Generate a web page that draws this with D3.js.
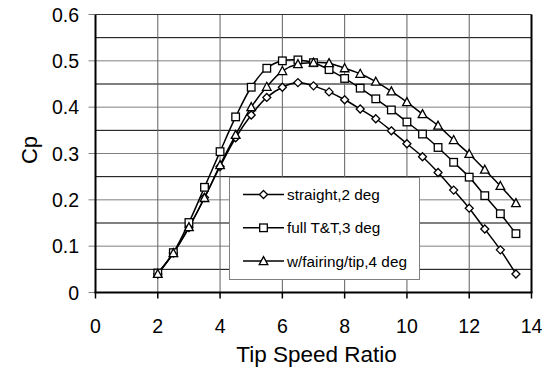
<!DOCTYPE html>
<html>
<head>
<meta charset="utf-8">
<script src="https://cdn.jsdelivr.net/npm/d3@7"></script>
<style>
  body { margin: 0; background: #fff; }
  svg { display: block; font-family: "Liberation Sans", Arial, sans-serif; }
</style>
</head>
<body>
<div id="chart"></div>
<script>
// tip speed ratio (x) and Cp for each configuration
var tsr = [2, 2.5, 3, 3.5, 4, 4.5, 5, 5.5, 6, 6.5, 7, 7.5, 8, 8.5, 9, 9.5, 10, 10.5, 11, 11.5, 12, 12.5, 13, 13.5];
var straight = [0.040, 0.085, 0.140, 0.205, 0.272, 0.334, 0.383, 0.421, 0.443, 0.453, 0.446, 0.433, 0.416, 0.396, 0.375, 0.349, 0.321, 0.293, 0.259, 0.221, 0.182, 0.137, 0.092, 0.040];
var fullTT = [0.042, 0.086, 0.151, 0.227, 0.304, 0.379, 0.443, 0.484, 0.500, 0.502, 0.496, 0.481, 0.462, 0.441, 0.418, 0.394, 0.368, 0.342, 0.313, 0.281, 0.249, 0.209, 0.170, 0.127];
var fairing = [0.040, 0.085, 0.141, 0.204, 0.275, 0.340, 0.400, 0.444, 0.478, 0.493, 0.496, 0.495, 0.484, 0.472, 0.455, 0.434, 0.411, 0.385, 0.360, 0.329, 0.299, 0.265, 0.230, 0.193];
var seriesNames = ["straight,2 deg", "full T&T,3 deg", "w/fairing/tip,4 deg"];
var seriesMarkers = ["diamond", "square", "triangle"];
var xTicks = [0, 2, 4, 6, 8, 10, 12, 14];
var yTicks = [0, 0.1, 0.2, 0.3, 0.4, 0.5, 0.6];
var yMinor = [0.05, 0.15, 0.25, 0.35, 0.45, 0.55];

var width = 549, height = 373;
var margin = {left: 95.5, right: 17.5, top: 14.5, bottom: 80.5};

var svg = d3.select('#chart').append('svg')
    .attr('width', width)
    .attr('height', height);

var x = d3.scaleLinear().domain([0, 14]).range([margin.left, width - margin.right]);
var y = d3.scaleLinear().domain([0, 0.6]).range([height - margin.bottom, margin.top]);

// grid
svg.append('g').selectAll('line')
    .data(yMinor)
    .enter().append('line')
    .attr('x1', x(0)).attr('x2', x(14))
    .attr('y1', y).attr('y2', y)
    .attr('stroke', '#000').attr('stroke-width', 1);

svg.append('g').selectAll('line')
    .data(yTicks.slice(1))
    .enter().append('line')
    .attr('x1', x(0) - 7).attr('x2', x(14))
    .attr('y1', y).attr('y2', y)
    .attr('stroke', '#808080').attr('stroke-width', 1);

svg.append('g').selectAll('line')
    .data(xTicks.slice(1, -1))
    .enter().append('line')
    .attr('x1', x).attr('x2', x)
    .attr('y1', y(0)).attr('y2', y(0.6))
    .attr('stroke', '#606060').attr('stroke-width', 1);

// zero tick on y
svg.append('line')
    .attr('x1', x(0) - 7).attr('x2', x(0))
    .attr('y1', y(0)).attr('y2', y(0))
    .attr('stroke', '#808080');

// x ticks
svg.append('g').selectAll('line')
    .data(xTicks)
    .enter().append('line')
    .attr('x1', x).attr('x2', x)
    .attr('y1', y(0)).attr('y2', y(0) + 6)
    .attr('stroke', '#000').attr('stroke-width', 1.5);

// frame
svg.append('line')
    .attr('x1', x(14)).attr('x2', x(14))
    .attr('y1', y(0.6)).attr('y2', y(0))
    .attr('stroke', '#000').attr('stroke-width', 2);
svg.append('line')
    .attr('x1', x(0)).attr('x2', x(0))
    .attr('y1', y(0.6)).attr('y2', y(0))
    .attr('stroke', '#000').attr('stroke-width', 2);
svg.append('line')
    .attr('x1', x(0) - 1).attr('x2', x(14) + 1)
    .attr('y1', y(0)).attr('y2', y(0))
    .attr('stroke', '#000').attr('stroke-width', 2);
svg.append('line')
    .attr('x1', x(0)).attr('x2', x(14))
    .attr('y1', y(0.6)).attr('y2', y(0.6))
    .attr('stroke', '#333').attr('stroke-width', 1.2);

// tick labels
svg.append('g').selectAll('text')
    .data(yTicks)
    .enter().append('text')
    .attr('x', 79)
    .attr('y', function(d) { return y(d) + 7; })
    .attr('text-anchor', 'end')
    .attr('font-size', 19.5)
    .text(function(d) { return d === 0 ? '0' : d.toFixed(1); });

svg.append('g').selectAll('text')
    .data(xTicks)
    .enter().append('text')
    .attr('x', x)
    .attr('y', 333)
    .attr('text-anchor', 'middle')
    .attr('font-size', 19.5)
    .text(function(d) { return d; });

// axis titles
svg.append('text')
    .attr('x', (x(0) + x(14)) / 2 + 3)
    .attr('y', 362)
    .attr('text-anchor', 'middle')
    .attr('font-size', 22.5)
    .text('Tip Speed Ratio');

svg.append('text')
    .attr('transform', 'translate(37,' + 150 + ') rotate(-90)')
    .attr('text-anchor', 'middle')
    .attr('font-size', 22)
    .text('Cp');

// markers
function marker(g, type, cx, cy) {
  if (type === 'diamond') {
    g.append('path')
      .attr('d', 'M' + cx + ',' + (cy - 4) + 'L' + (cx + 4) + ',' + cy + 'L' + cx + ',' + (cy + 4) + 'L' + (cx - 4) + ',' + cy + 'Z')
      .attr('fill', '#fff').attr('stroke', '#000').attr('stroke-width', 1.3);
  } else if (type === 'square') {
    g.append('rect')
      .attr('x', cx - 3.8).attr('y', cy - 3.8)
      .attr('width', 7.6).attr('height', 7.6)
      .attr('fill', '#fff').attr('stroke', '#000').attr('stroke-width', 1.3);
  } else {
    g.append('path')
      .attr('d', 'M' + cx + ',' + (cy - 4.5) + 'L' + (cx + 4.3) + ',' + (cy + 3.5) + 'L' + (cx - 4.3) + ',' + (cy + 3.5) + 'Z')
      .attr('fill', '#fff').attr('stroke', '#000').attr('stroke-width', 1.3);
  }
}

var allSeries = [straight, fullTT, fairing];
var line = d3.line()
    .x(function(d, i) { return x(tsr[i]); })
    .y(function(d) { return y(d); })
    .curve(d3.curveCatmullRom);

allSeries.forEach(function(s, k) {
  svg.append('path')
    .attr('d', line(s))
    .attr('fill', 'none')
    .attr('stroke', '#000')
    .attr('stroke-width', 1.5);
});
allSeries.forEach(function(s, k) {
  var g = svg.append('g');
  s.forEach(function(v, i) { marker(g, seriesMarkers[k], x(tsr[i]), y(v)); });
});

// legend
var legend = svg.append('g');
legend.append('rect')
    .attr('x', 229.5).attr('y', 177.5)
    .attr('width', 190).attr('height', 102)
    .attr('fill', '#fff')
    .attr('stroke', '#808080').attr('stroke-width', 1);

seriesNames.forEach(function(name, k) {
  var ly = 194.5 + k * 33.3;
  legend.append('line')
    .attr('x1', 243).attr('x2', 284)
    .attr('y1', ly).attr('y2', ly)
    .attr('stroke', '#000').attr('stroke-width', 1.5);
  marker(legend, seriesMarkers[k], 263.5, ly);
  legend.append('text')
    .attr('x', 287)
    .attr('y', ly + 5.5)
    .attr('font-size', 15.3)
    .text(name);
});
</script>
</body>
</html>
